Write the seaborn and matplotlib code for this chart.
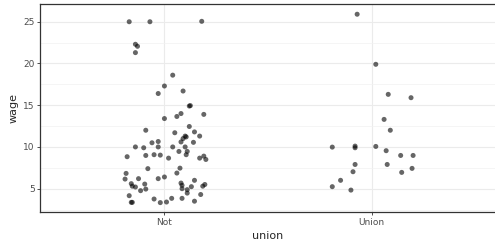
import numpy as np
import pandas as pd
import matplotlib
matplotlib.use("Agg")
import matplotlib.pyplot as plt
import seaborn as sns
from matplotlib.ticker import MultipleLocator

sns.set_theme(style="white")
plt.rcParams['font.family'] = ['DejaVu Sans']

categories = ["Not", "Union"]

# wages and horizontal jitter
not_wage = [25.0, 25.0, 25.05, 22.3, 22.06, 21.3, 18.6, 17.3, 16.4, 16.7,
            14.9, 14.95, 14.0, 13.65, 13.9, 13.4, 12.0, 12.45, 11.8, 11.7,
            11.3, 11.2, 11.3, 11.0, 10.6, 10.55, 10.65, 10.5, 10.0, 9.9,
            10.0, 10.0, 10.0, 9.46, 9.46, 9.07, 8.83, 8.98, 9.07, 9.02,
            8.66, 8.66, 8.9, 8.5, 7.4, 7.46, 6.87, 6.83, 6.4, 6.2,
            6.15, 6.2, 6.0, 5.6, 5.3, 5.2, 5.55, 4.95, 4.76, 5.67,
            5.4, 5.0, 5.24, 5.5, 5.3, 4.88, 4.47, 4.3, 4.16, 3.76,
            3.84, 3.84, 3.5, 3.36, 3.36, 3.33, 3.4]
not_jit = [-0.17, -0.07, 0.18, -0.14, -0.13, -0.14, 0.04, 0.0, -0.03, 0.09,
           0.12, 0.125, 0.08, 0.06, 0.19, 0.0, -0.09, 0.12, 0.145, 0.05,
           0.10, 0.105, 0.17, 0.09, 0.08, 0.14, -0.03, -0.06, -0.14, -0.10,
           -0.03, 0.04, 0.10, 0.11, 0.07, 0.105, -0.18, -0.09, -0.05, -0.02,
           0.02, 0.17, 0.19, 0.20, -0.08, 0.075, 0.06, -0.185, 0.0, -0.03,
           -0.19, -0.125, 0.145, -0.16, -0.155, -0.14, -0.095, -0.09, -0.115, 0.08,
           0.085, 0.085, 0.13, 0.195, 0.185, 0.11, 0.11, 0.175, -0.17, -0.05,
           0.035, 0.085, 0.145, -0.16, -0.155, -0.02, 0.01]

union_wage = [25.9, 19.9, 16.3, 15.9, 13.3, 12.0, 9.98, 10.1, 9.9, 10.06,
              9.55, 8.98, 8.98, 7.9, 7.9, 7.03, 6.95, 7.43, 6.0, 5.24, 4.83]
union_jit = [-0.07, 0.02, 0.08, 0.19, 0.06, 0.09, -0.19, -0.08, -0.08, 0.02,
             0.07, 0.14, 0.20, -0.08, 0.075, -0.09, 0.145, 0.195, -0.15, -0.19, -0.10]

df = pd.DataFrame({
    "union": ["Not"] * len(not_wage) + ["Union"] * len(union_wage),
    "wage": not_wage + union_wage,
    "jit": not_jit + union_jit,
})
df["xpos"] = df["union"].map({c: i for i, c in enumerate(categories)}) + df["jit"]

fig = plt.figure(figsize=(4.95, 2.48), dpi=100)
# panel runs off the right edge of the image, like the reference
ax = fig.add_axes([0.081, 0.145, 0.921, 0.838])

sns.scatterplot(data=df, x="xpos", y="wage", color="black", alpha=0.6,
                s=13, edgecolor="none", ax=ax, zorder=3)

ax.set_xlim(-0.6, 1.6)
ax.set_ylim(2.2, 27.1)
ax.set_xticks(range(len(categories)))
ax.set_xticklabels(categories)
ax.yaxis.set_major_locator(MultipleLocator(5))
ax.yaxis.set_minor_locator(MultipleLocator(2.5))

ax.grid(True, which="major", color="#EBEBEB", linewidth=0.8, zorder=0)
ax.grid(True, which="minor", axis="y", color="#F2F2F2", linewidth=0.5, zorder=0)
ax.set_axisbelow(True)

for sp in ax.spines.values():
    sp.set_color("#333333")
    sp.set_linewidth(0.9)
ax.spines["right"].set_visible(False)

ax.tick_params(axis="both", which="major", length=2.5, width=0.6, color="#333333",
               labelsize=6.5, labelcolor="#4D4D4D", pad=1.5)
ax.tick_params(axis="y", which="minor", length=0)
ax.tick_params(bottom=True, left=True)

ax.set_xlabel("union", fontsize=8, labelpad=3)
ax.set_ylabel("wage", fontsize=8, labelpad=3)

fig.savefig("out.png", dpi=100)
